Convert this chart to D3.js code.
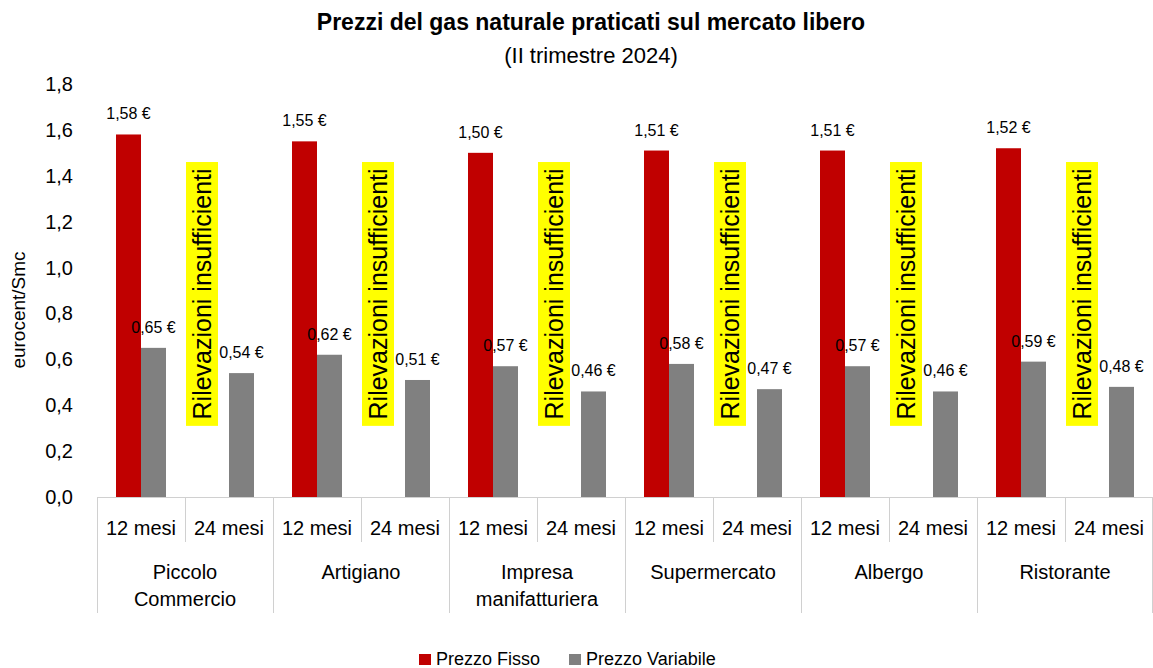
<!DOCTYPE html>
<html lang="it">
<head>
<meta charset="UTF-8"/>
<title>Prezzi del gas naturale</title>
<script src="https://d3js.org/d3.v7.min.js"></script>
<style>
	body { margin: 0; background: #fff; }
	text { font-family: "Liberation Sans", Arial, sans-serif; fill: #000; }
	.title { font-weight: bold; font-size: 23px; }
	.subtitle { font-size: 22px; }
	.tick-lbl { font-size: 20px; }
	.val { font-size: 16px; }
	.cat { font-size: 20px; }
	.note { font-size: 25px; }
	.grid { stroke: #d0d0d0; stroke-width: 1; }
</style>
</head>
<body>
<div id="chart"></div>
<script>
var groups = ["Piccolo Commercio", "Artigiano", "Impresa manifatturiera", "Supermercato", "Albergo", "Ristorante"];
var groupLines = [["Piccolo", "Commercio"], ["Artigiano"], ["Impresa", "manifatturiera"], ["Supermercato"], ["Albergo"], ["Ristorante"]];
var durations = ["12 mesi", "24 mesi"];
var fisso12 = [1.58, 1.55, 1.50, 1.51, 1.51, 1.52];
var variabile12 = [0.65, 0.62, 0.57, 0.58, 0.57, 0.59];
var variabile24 = [0.54, 0.51, 0.46, 0.47, 0.46, 0.48];
var yTicks = [0, 0.2, 0.4, 0.6, 0.8, 1.0, 1.2, 1.4, 1.6, 1.8];
var series = ["Prezzo Fisso", "Prezzo Variabile"];
var colors = ["#c00000", "#808080"];
var noteText = "Rilevazioni insufficienti";

var w = 1153, h = 668;
var plotLeft = 97, plotRight = 1153, plotTop = 84, plotBottom = 497;

var svg = d3.select("#chart").append("svg")
	.attr("width", w).attr("height", h);

// flat list of sub categories
var cells = [];
groups.forEach(function(g) {
	durations.forEach(function(d) { cells.push(g + "|" + d); });
});

var x = d3.scaleBand().domain(cells).range([plotLeft, plotRight]);
var xg = d3.scaleBand().domain(groups).range([plotLeft, plotRight]);
var inner = d3.scaleBand().domain(series).range([0, x.bandwidth()]).paddingInner(0).paddingOuter(0.76);
var y = d3.scaleLinear().domain([0, 1.8]).range([plotBottom, plotTop]);

var fmt = function(v) { return v.toFixed(2).replace(".", ",") + " \u20ac"; };

// title
svg.append("text").attr("class", "title").attr("x", 591).attr("y", 30)
	.attr("text-anchor", "middle").text("Prezzi del gas naturale praticati sul mercato libero");
svg.append("text").attr("class", "subtitle").attr("x", 591).attr("y", 63)
	.attr("text-anchor", "middle").text("(II trimestre 2024)");

// y axis labels
svg.selectAll(".tick-lbl").data(yTicks).enter().append("text")
	.attr("class", "tick-lbl")
	.attr("x", 73).attr("y", function(d) { return y(d) + 7; })
	.attr("text-anchor", "end")
	.text(function(d) { return d.toFixed(1).replace(".", ","); });

svg.append("text")
	.attr("transform", "translate(25,310) rotate(-90)")
	.attr("text-anchor", "middle").style("font-size", "19px").text("eurocent/Smc");

// bars
var data12f = groups.map(function(g, i) { return {k: g + "|12 mesi", v: fisso12[i], s: 0}; });
var data12v = groups.map(function(g, i) { return {k: g + "|12 mesi", v: variabile12[i], s: 1}; });
var data24v = groups.map(function(g, i) { return {k: g + "|24 mesi", v: variabile24[i], s: 1}; });
var bars = data12f.concat(data12v, data24v);

svg.selectAll(".bar").data(bars).enter().append("rect")
	.attr("class", "bar")
	.attr("x", function(d) { return x(d.k) + inner(series[d.s]); })
	.attr("y", function(d) { return y(d.v); })
	.attr("width", inner.bandwidth())
	.attr("height", function(d) { return y(0) - y(d.v); })
	.attr("fill", function(d) { return colors[d.s]; });

svg.selectAll(".val").data(bars).enter().append("text")
	.attr("class", "val")
	.attr("x", function(d) { return x(d.k) + inner(series[d.s]) + inner.bandwidth() / 2; })
	.attr("y", function(d) { return y(d.v) - 15; })
	.attr("text-anchor", "middle")
	.text(function(d) { return fmt(d.v); });

// notes where the fixed 24 month price is missing
var notes = svg.selectAll(".noteg").data(groups).enter().append("g");
notes.append("rect")
	.attr("x", function(g) { return x(g + "|24 mesi") + 1; })
	.attr("y", y(1.46))
	.attr("width", 32)
	.attr("height", y(0.31) - y(1.46))
	.attr("fill", "#ffff00");
notes.append("text").attr("class", "note")
	.attr("transform", function(g) {
		return "translate(" + (x(g + "|24 mesi") + 26) + "," + ((y(1.46) + y(0.31)) / 2) + ") rotate(-90)";
	})
	.attr("text-anchor", "middle")
	.text(noteText);

// category axis
svg.append("line").attr("class", "grid")
	.attr("x1", plotLeft).attr("x2", plotRight).attr("y1", plotBottom + 0.5).attr("y2", plotBottom + 0.5);
svg.selectAll(".sep").data(cells).enter().append("line").attr("class", "grid")
	.attr("x1", function(d) { return Math.round(x(d)) + 0.5; })
	.attr("x2", function(d) { return Math.round(x(d)) + 0.5; })
	.attr("y1", plotBottom)
	.attr("y2", function(d, i) { return i % 2 == 0 ? 613 : 542; });
svg.append("line").attr("class", "grid")
	.attr("x1", plotRight - 0.5).attr("x2", plotRight - 0.5).attr("y1", plotBottom).attr("y2", 613);

svg.selectAll(".sub-lbl").data(cells).enter().append("text")
	.attr("class", "cat")
	.attr("x", function(d) { return x(d) + x.bandwidth() / 2; })
	.attr("y", 535)
	.attr("text-anchor", "middle")
	.text(function(d) { return d.split("|")[1]; });

groups.forEach(function(g, i) {
	groupLines[i].forEach(function(line, j) {
		svg.append("text").attr("class", "cat")
			.attr("x", xg(g) + xg.bandwidth() / 2)
			.attr("y", 579 + j * 27)
			.attr("text-anchor", "middle")
			.text(line);
	});
});

// legend
var legend = svg.selectAll(".leg").data(series).enter().append("g")
	.attr("transform", function(d, i) { return "translate(" + (i == 0 ? 419 : 569) + ",653)"; });
legend.append("rect").attr("y", 1).attr("width", 12).attr("height", 11)
	.attr("fill", function(d, i) { return colors[i]; });
legend.append("text").style("font-size", "18px")
	.attr("x", 17).attr("y", 12).text(function(d) { return d; });
</script>
</body>
</html>
